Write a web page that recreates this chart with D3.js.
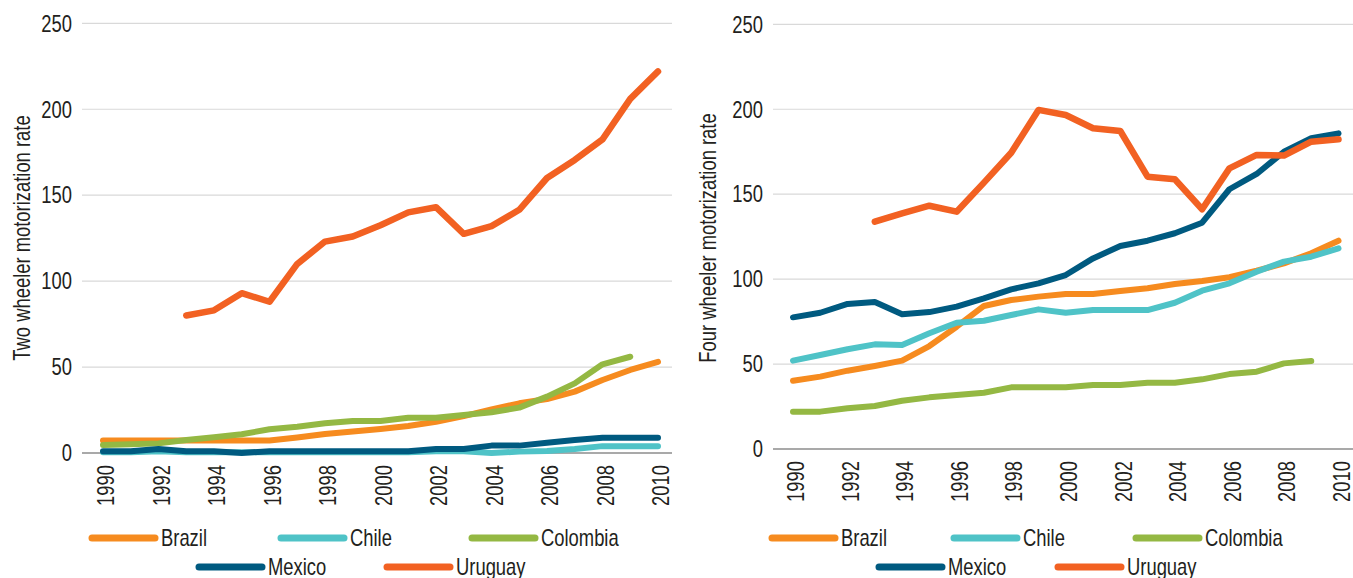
<!DOCTYPE html>
<html>
<head>
<meta charset="utf-8">
<title>Motorization rates</title>
<script src="https://d3js.org/d3.v7.min.js"></script>
<style>
  body { margin: 0; background: #fff; }
  text { font-family: "Liberation Sans", Arial, sans-serif; fill: #231f20; }
</style>
</head>
<body>
<script>
// data
var years = d3.range(1990, 2011);
var yTicks = [0, 50, 100, 150, 200, 250];
var xTickYears = [1990, 1992, 1994, 1996, 1998, 2000, 2002, 2004, 2006, 2008, 2010];
var countries = ["Brazil", "Chile", "Colombia", "Mexico", "Uruguay"];
var colors = ["#f68b1f", "#4fc3c7", "#94b843", "#005a80", "#f26122"];

var brazilTwo   = [7.3, 7.3, 7.3, 7.3, 7.3, 7.3, 7.3, 9, 11, 12.5, 14, 15.7, 18.2, 21.5, 25.4, 28.9, 31.4, 35.7, 42.5, 48.3, 53];
var chileTwo    = [0.5, 0.5, 1, 0.5, 0.5, 0.5, 0.5, 0.5, 0.5, 0.5, 0.5, 0.5, 1, 1, 0, 0.8, 1.2, 2.3, 4, 4, 4];
var colombiaTwo = [4.7, 5.1, 5.6, 7.6, 9.1, 10.9, 13.8, 15.3, 17.3, 18.6, 18.6, 20.5, 20.5, 22.1, 23.7, 26.4, 32.8, 40.5, 51.6, 56, null];
var mexicoTwo   = [1, 1, 2.3, 1, 1, 0, 1, 1, 1, 1, 1, 1, 2.3, 2.3, 4.3, 4.3, 6, 7.6, 8.9, 8.9, 8.9];
var uruguayTwo  = [null, null, null, 80, 83, 93, 88, 110, 123, 126, 132.5, 140, 143, 127.5, 132, 141.5, 160, 170.5, 182.5, 206, 222];

var brazilFour   = [40.2, 42.6, 46.1, 48.9, 52, 60.6, 72, 84.2, 87.7, 89.7, 91.2, 91.2, 93, 94.6, 97.1, 98.9, 101.1, 105, 109.3, 115.2, 122.6];
var chileFour    = [52, 55.3, 58.7, 61.6, 61.2, 68.1, 74.3, 75.5, 78.9, 82.2, 80.2, 81.8, 81.8, 81.8, 86.1, 93.2, 97.5, 104.4, 110.3, 113.2, 118.1];
var colombiaFour = [22, 22, 24, 25.3, 28.4, 30.4, 31.8, 33.1, 36.3, 36.3, 36.3, 37.7, 37.7, 39, 39, 41, 44.1, 45.5, 50.4, 51.8, null];
var mexicoFour   = [77.5, 80.2, 85.4, 86.5, 79.3, 80.6, 83.8, 88.7, 94, 97.5, 102.4, 112.2, 119.5, 122.6, 127, 133.2, 152.9, 161.9, 175, 182.9, 185.8];
var uruguayFour  = [null, null, null, 133.8, 138.7, 143.2, 139.7, 156.8, 174.4, 199.6, 196.6, 188.8, 187.2, 160.3, 158.8, 141.1, 165.2, 173.1, 172.7, 180.9, 182.3];

// no condensed font here, so squeeze the regular one
var squeeze = " scale(0.8,1)";

var svg = d3.select("body").append("svg")
  .attr("width", 1353)
  .attr("height", 578);

function drawPanel(cfg) {
  var g = svg.append("g");

  var x = d3.scaleLinear().domain([1990, 2010]).range([cfg.x0, cfg.x1]);
  var y = d3.scaleLinear().domain([0, 250]).range([cfg.yBottom, cfg.yTop]);

  // gridlines
  g.selectAll(".grid")
    .data(yTicks.filter(function(d) { return d > 0; }))
    .enter().append("line")
    .attr("x1", cfg.axisLeft).attr("x2", cfg.axisRight)
    .attr("y1", function(d) { return y(d); })
    .attr("y2", function(d) { return y(d); })
    .attr("stroke", "#d9d9d9")
    .attr("stroke-width", 1.2);

  // baseline
  g.append("line")
    .attr("x1", cfg.axisLeft).attr("x2", cfg.axisRight)
    .attr("y1", y(0)).attr("y2", y(0))
    .attr("stroke", "#8c8c8c")
    .attr("stroke-width", 1.5);

  // y tick labels
  g.selectAll(".ylab")
    .data(yTicks)
    .enter().append("text")
    .attr("transform", function(d) { return "translate(" + (cfg.axisLeft - 10) + "," + y(d) + ")" + squeeze; })
    .attr("dy", "0.36em")
    .attr("text-anchor", "end")
    .style("font-size", "23px")
    .text(function(d) { return d; });

  // x tick labels, rotated
  g.selectAll(".xlab")
    .data(xTickYears)
    .enter().append("text")
    .attr("transform", function(d) { return "translate(" + (x(d) + 3) + "," + (y(0) + 12) + ") rotate(-90)" + squeeze; })
    .attr("text-anchor", "end")
    .attr("dy", "0.36em")
    .style("font-size", "23px")
    .text(function(d) { return d; });

  // axis title
  g.append("text")
    .attr("transform", "translate(" + cfg.titleX + "," + 238 + ") rotate(-90)" + squeeze)
    .attr("text-anchor", "middle")
    .attr("dy", "0.36em")
    .style("font-size", "23px")
    .text(cfg.title);

  var line = d3.line()
    .defined(function(d) { return d != null; })
    .x(function(d, i) { return x(years[i]); })
    .y(function(d) { return y(d); });

  cfg.series.forEach(function(s, i) {
    g.append("path")
      .datum(s)
      .attr("d", line)
      .attr("fill", "none")
      .attr("stroke", colors[i])
      .attr("stroke-width", i == 4 ? 6.5 : 6)
      .attr("stroke-linejoin", "round")
      .attr("stroke-linecap", "round");
  });

  // legend
  cfg.legend.forEach(function(p, i) {
    g.append("line")
      .attr("x1", p[0]).attr("x2", p[0] + 63)
      .attr("y1", p[1]).attr("y2", p[1])
      .attr("stroke", colors[i])
      .attr("stroke-width", 7)
      .attr("stroke-linecap", "round");
    g.append("text")
      .attr("transform", "translate(" + (p[0] + 69) + "," + p[1] + ")" + squeeze)
      .attr("dy", "0.36em")
      .style("font-size", "23px")
      .text(countries[i]);
  });
}

drawPanel({
  x0: 103, x1: 658, yBottom: 453, yTop: 23.3,
  axisLeft: 82, axisRight: 672,
  titleX: 22,
  title: "Two wheeler motorization rate",
  series: [brazilTwo, chileTwo, colombiaTwo, mexicoTwo, uruguayTwo],
  legend: [[92, 538], [281, 538], [472, 538], [199, 567], [387, 567]]
});

drawPanel({
  x0: 793, x1: 1338.5, yBottom: 449, yTop: 24.3,
  axisLeft: 773, axisRight: 1353,
  titleX: 708,
  title: "Four wheeler motorization rate",
  series: [brazilFour, chileFour, colombiaFour, mexicoFour, uruguayFour],
  legend: [[772, 538], [954, 538], [1136, 538], [879, 567], [1058, 567]]
});
</script>
</body>
</html>
